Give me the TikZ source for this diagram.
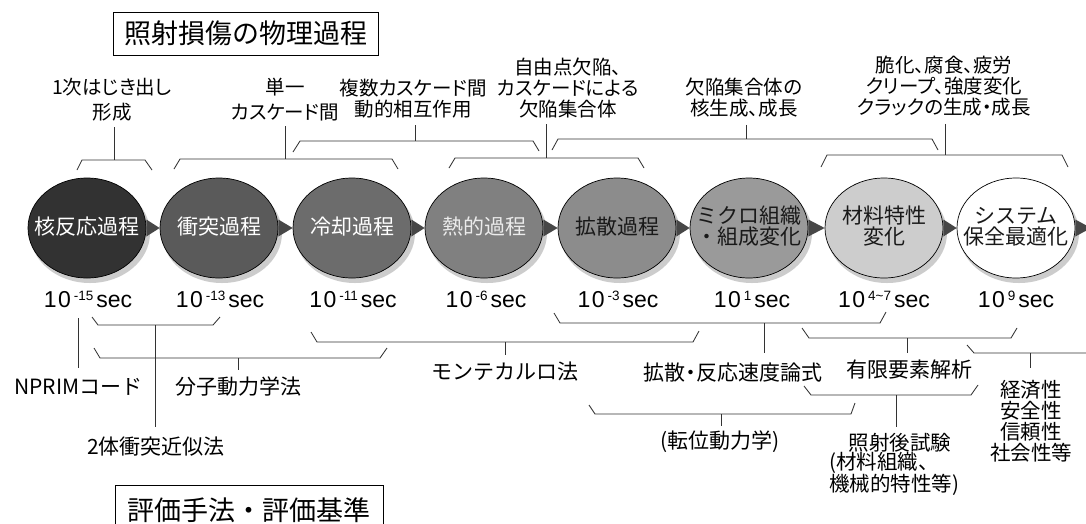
\documentclass[tikz,border=0pt]{standalone}
\usepackage{fontspec}
\setmainfont{Noto Sans CJK JP}
\newfontfamily\jpp{Noto Sans CJK JP}[RawFeature=+palt]
\newfontfamily\lbs{Liberation Sans}
\usetikzlibrary{shapes.geometric}
\definecolor{ca}{HTML}{323232}
\definecolor{cb}{HTML}{5A5A5A}
\definecolor{cc}{HTML}{6C6C6C}
\definecolor{cd}{HTML}{808080}
\definecolor{ce}{HTML}{8C8C8C}
\definecolor{cf}{HTML}{9A9A9A}
\definecolor{cg}{HTML}{CDCDCD}
\definecolor{ch}{HTML}{FFFFFF}
\definecolor{lnc}{HTML}{333333}
\newcommand\mysup[1]{\hspace{3pt}\raisebox{6.8pt}{\fontsize{13.5}{13.5}\selectfont #1}\hspace{3pt}}
\newcommand\myten{1\hspace{1.5pt}0}
\tikzset{
 ln/.style={draw=lnc, line width=0.85pt},
 procshape/.style={ellipse, draw=black, line width=0.7pt, minimum width=118pt, minimum height=100pt, inner sep=0pt},
 proctext/.style={font=\fontsize{21}{21}\selectfont, align=center, inner sep=0pt},
 toplbl/.style={font=\jpp\fontsize{19.5}{21}\selectfont, align=center, inner sep=0pt},
 botlbl/.style={font=\fontsize{21}{21}\selectfont, align=center, inner sep=0pt},
 timelbl/.style={font=\lbs\fontsize{23}{23}\selectfont, anchor=base, inner sep=0pt},
 boxlbl/.style={draw=black, line width=0.8pt, font=\fontsize{27}{27}\selectfont, inner sep=0pt},
 tri/.style={fill=black!72},
 shd/.style={fill=black!20}
}
\begin{document}
\begin{tikzpicture}[x=1pt,y=-1pt]
\useasboundingbox (0,0) rectangle (1086,523);
\clip (0,0) rectangle (1086,523);
\fill[white] (0,0) rectangle (1086,523);

% titles
\node[boxlbl, minimum width=265pt, minimum height=43pt] (title) at (245.5,33.5) {照射損傷の物理過程};
\node[boxlbl, minimum width=268pt, minimum height=50pt, anchor=north] (evalt) at (249,485) {評価手法・評価基準};

% shadows
\foreach \cx in {87,219,352,484,617,749,884,1016}{
  \fill[shd] (\cx+3,233) ellipse [x radius=60pt, y radius=50pt];
}
% ellipses
\foreach \i/\cx/\col in {1/87/ca,2/219/cb,3/352/cc,4/484/cd,5/617/ce,6/749/cf,7/884/cg,8/1016/ch}{
  \node[procshape, fill=\col] (e\i) at (\cx,228) {};
}
% arrows
\foreach \a/\b in {e1/e2,e2/e3,e3/e4,e4/e5,e5/e6,e6/e7,e7/e8}{
  \fill[tri] ([yshift=8.5pt]\a.east) -- ([yshift=-8.5pt]\a.east) -- (\b.west) -- cycle;
}
\coordinate (tipend) at (1091,228);
\fill[tri] ([yshift=8.5pt]e8.east) -- ([yshift=-8.5pt]e8.east) -- (tipend) -- cycle;

% process texts
\node[proctext, text=white] (p1) at ([yshift=1.5pt]e1.center) {核反応過程};
\node[proctext, text=white] (p2) at ([yshift=1.5pt]e2.center) {衝突過程};
\node[proctext, text=white] (p3) at ([yshift=1.5pt]e3.center) {冷却過程};
\node[proctext, text=black!8] (p4) at ([yshift=1.5pt]e4.center) {熱的過程};
\node[proctext, text=black!90] (p5) at ([yshift=1.5pt]e5.center) {拡散過程};
\node[proctext, text=black!90] (p6) at ([yshift=1.5pt]e6.center) {ミクロ組織\\・組成変化};
\node[proctext, text=black!90] (p7) at ([yshift=1.5pt]e7.center) {材料特性\\変化};
\node[proctext, text=black!90] (p8) at ([yshift=1.5pt]e8.center) {システム\\保全最適化};

% time labels
\node[timelbl] (t1) at (88,307) {\myten\mysup{-15}sec};
\node[timelbl] (t2) at (220,307) {\myten\mysup{-13}sec};
\node[timelbl] (t3) at (353,307) {\myten\mysup{-11}sec};
\node[timelbl] (t4) at (486,307) {\myten\mysup{-6}sec};
\node[timelbl] (t5) at (618,307) {\myten\mysup{-3}sec};
\node[timelbl] (t6) at (752,307) {\myten\mysup{1}sec};
\node[timelbl] (t7) at (884,307) {\myten\mysup{4\textasciitilde 7}sec};
\node[timelbl] (t8) at (1016,307) {\myten\mysup{9}sec};

% top labels
\node[toplbl, font=\jpp\fontsize{19.5}{25}\selectfont] (l1) at (112,99.5) {1次はじき出し\\形成};
\node[toplbl, font=\jpp\fontsize{19.5}{25}\selectfont] (l2) at (285,99.5) {単一\\カスケード間};
\node[toplbl] (l3) at (413,98.5) {複数カスケード間\\動的相互作用};
\node[toplbl] (l4) at (568,88) {自由点欠陥、\\カスケードによる\\欠陥集合体};
\node[toplbl] (l5) at (744,98) {欠陥集合体の\\核生成、成長};
\node[toplbl] (l6) at (944,86.5) {脆化、腐食、疲労\\クリープ、強度変化\\クラックの生成・成長};

% top brackets
\draw[ln] (77,170) -- (82,160) -- (145,160) -- (152,170);
\draw[ln] (174,169) -- (180,159) -- (392,159) -- (398,169);
\draw[ln] (293,152) -- (300,141) -- (533,141) -- (539,151);
\draw[ln] (449,168) -- (455,158) -- (638,158) -- (644,168);
\draw[ln] (552,150) -- (558,139) -- (932,139) -- (938,150);
\draw[ln] (821,167) -- (827,155) -- (1062,155) -- (1068,167);
\coordinate (k1) at (114,160);
\coordinate (k2) at (285,159);
\coordinate (k3) at (415,141);
\coordinate (k4) at (546,158);
\coordinate (k5) at (746,139);
\coordinate (k6) at (945,155);
\draw[ln] ([yshift=-6pt]l1.south -| k1) -- (k1);
\draw[ln] ([yshift=-5pt]l2.south -| k2) -- (k2);
\draw[ln] ([yshift=-7pt]l3.south -| k3) -- (k3);
\draw[ln] ([yshift=-6pt]l4.south -| k4) -- (k4);
\draw[ln] ([yshift=-7pt]l5.south -| k5) -- (k5);
\draw[ln] ([yshift=-7pt]l6.south -| k6) -- (k6);

% bottom labels
\node[botlbl] (nprim) at (78.5,387) {NPRIMコード};
\node[botlbl] (md) at (238,387) {分子動力学法};
\node[botlbl] (bca) at (156,447) {2体衝突近似法};
\node[botlbl] (mc) at (505,372) {モンテカルロ法};
\node[botlbl, font=\jpp\fontsize{21}{21}\selectfont] (rate) at (733,373) {拡散・反応速度論式};
\node[botlbl] (fem) at (909,370) {有限要素解析};
\node[botlbl] (disl) at (720,442) {(転位動力学)};
\node[botlbl, font=\fontsize{20.5}{21}\selectfont] (soc) at (1031,421.5) {経済性\\安全性\\信頼性\\社会性等};
\node[botlbl, font=\fontsize{20.5}{21}\selectfont] (pie1) at (900,443) {照射後試験};
\node[botlbl, font=\fontsize{20.5}{21}\selectfont, anchor=west] (pie2) at (829,463) {(材料組織、};
\node[botlbl, font=\fontsize{20.5}{21}\selectfont, anchor=west] (pie3) at (829,485) {機械的特性等)};

% bottom brackets
\draw[ln] (92,317) -- (98,325) -- (213,325) -- (220,317);
\draw[ln] (94,348) -- (100,358) -- (380,358) -- (387,348);
\draw[ln] (311,332) -- (317,342) -- (693,342) -- (699,331);
\draw[ln] (554,313) -- (560,323) -- (880,323) -- (886,312);
\draw[ln] (802,328) -- (809,338) -- (1011,338) -- (1017,328);
\draw[ln] (967,345) -- (974,353) -- (1090,353);
\draw[ln] (804,386) -- (811,395) -- (971,395) -- (978,385);
\draw[ln] (589,405) -- (595,414) -- (851,414) -- (855,403);
\coordinate (q1) at (155,325);
\coordinate (q2) at (238,358);
\coordinate (q3) at (505,342);
\coordinate (q4) at (764,323);
\coordinate (q5) at (907,338);
\coordinate (q6) at (1030,353);
\coordinate (q7) at (896,395);
\coordinate (q8) at (721,414);
\draw[ln] ([yshift=-11pt]t1.base -| nprim.north) -- ([yshift=10pt]nprim.north);
\draw[ln] (q1) -- ([yshift=10pt]bca.north -| q1);
\draw[ln] (q2) -- ([yshift=7pt]md.north -| q2);
\draw[ln] (q3) -- ([yshift=7pt]mc.north -| q3);
\draw[ln] (q4) -- ([yshift=10pt]rate.north -| q4);
\draw[ln] (q5) -- ([yshift=7pt]fem.north -| q5);
\draw[ln] (q6) -- ([yshift=12pt]soc.north -| q6);
\draw[ln] (q7) -- ([yshift=6pt]pie1.north -| q7);
\draw[ln] (q8) -- ([yshift=5pt]disl.north -| q8);
\end{tikzpicture}
\end{document}
